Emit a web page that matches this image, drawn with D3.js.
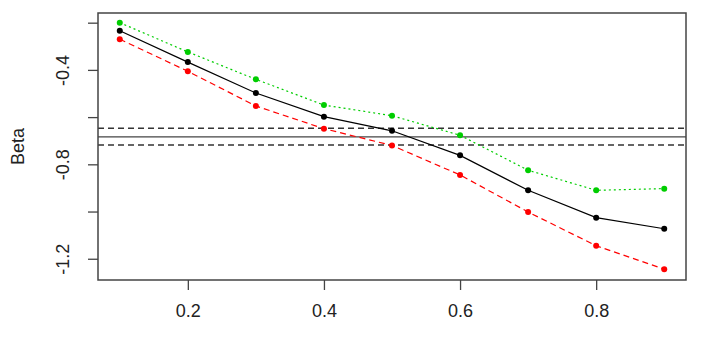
<!DOCTYPE html>
<html>
<head>
<meta charset="utf-8">
<script src="https://cdn.jsdelivr.net/npm/d3@7"></script>
<style>
  body { margin: 0; background: #fff; }
  text { font-family: "Liberation Sans", Arial, sans-serif; fill: #222; }
</style>
</head>
<body>
<svg id="chart" width="711" height="343"></svg>
<script>
// quantile levels on the x axis
const taus = [0.1, 0.2, 0.3, 0.4, 0.5, 0.6, 0.7, 0.8, 0.9];
// estimated beta and its bounds
const betaEst = [-0.234, -0.367, -0.498, -0.598, -0.658, -0.762, -0.910, -1.026, -1.073];
const betaUpper = [-0.200, -0.324, -0.440, -0.549, -0.594, -0.677, -0.825, -0.910, -0.903];
const betaLower = [-0.270, -0.406, -0.553, -0.649, -0.720, -0.845, -1.002, -1.145, -1.244];
// OLS estimate and its confidence band
const olsLine = -0.684;
const olsBand = [-0.647, -0.718];

const xTicks = [0.2, 0.4, 0.6, 0.8];
const yTicks = [-0.2, -0.4, -0.6, -0.8, -1.0, -1.2];
const yLabelled = [-0.4, -0.8, -1.2];

let svg = d3.select('#chart');
let plotLeft = 98, plotRight = 686, plotTop = 13, plotBottom = 280;

let xScale = d3.scaleLinear().domain([0.068, 0.932]).range([plotLeft, plotRight]);
let yScale = d3.scaleLinear().domain([-0.159, -1.290]).range([plotTop, plotBottom]);

// R style labels: plain hyphen as minus
let fmt = function (d) { return d.toFixed(1); };

// horizontal reference lines
svg.append('line')
    .attr('x1', plotLeft).attr('x2', plotRight)
    .attr('y1', yScale(olsLine)).attr('y2', yScale(olsLine))
    .style('stroke', '#444').style('stroke-width', 1.3);
olsBand.forEach(function (v) {
    svg.append('line')
        .attr('x1', plotLeft).attr('x2', plotRight)
        .attr('y1', yScale(v)).attr('y2', yScale(v))
        .style('stroke', '#333').style('stroke-width', 1.6)
        .style('stroke-dasharray', '6,4');
});

let series = [
    { values: betaUpper, color: '#00cd00', dash: '2,3' },
    { values: betaLower, color: '#ff0000', dash: '6,4' },
    { values: betaEst, color: '#000000', dash: null }
];

let line = d3.line()
    .x(function (d) { return xScale(d.x); })
    .y(function (d) { return yScale(d.y); });

series.forEach(function (s) {
    let pts = taus.map(function (t, i) { return { x: t, y: s.values[i] }; });
    svg.append('path')
        .datum(pts)
        .attr('d', line)
        .style('fill', 'none')
        .style('stroke', s.color)
        .style('stroke-width', 1.2)
        .style('stroke-dasharray', s.dash);
    svg.selectAll(null)
        .data(pts)
        .enter()
        .append('circle')
        .attr('cx', function (d) { return xScale(d.x); })
        .attr('cy', function (d) { return yScale(d.y); })
        .attr('r', 3)
        .style('fill', s.color);
});

// plot box
svg.append('rect')
    .attr('x', plotLeft).attr('y', plotTop)
    .attr('width', plotRight - plotLeft).attr('height', plotBottom - plotTop)
    .style('fill', 'none').style('stroke', '#444').style('stroke-width', 1.5);

// x axis
let xAxis = d3.axisBottom(xScale)
    .tickValues(xTicks)
    .tickSize(10)
    .tickPadding(14)
    .tickFormat(fmt);
let gx = svg.append('g')
    .attr('transform', 'translate(0,' + plotBottom + ')')
    .call(xAxis);
gx.select('.domain').remove();
gx.selectAll('line').style('stroke', '#444').style('stroke-width', 1.3);
gx.selectAll('text').style('font-size', '18px').style('fill', '#222');

// y axis
let yAxis = d3.axisLeft(yScale)
    .tickValues(yTicks)
    .tickSize(10)
    .tickFormat(function (d) {
        return yLabelled.indexOf(d) >= 0 ? fmt(d) : '';
    });
let gy = svg.append('g')
    .attr('transform', 'translate(' + plotLeft + ',0)')
    .call(yAxis);
gy.select('.domain').remove();
gy.selectAll('line').style('stroke', '#444').style('stroke-width', 1.3);
gy.selectAll('text')
    .style('font-size', '18px').style('fill', '#222')
    .attr('x', null)
    .attr('text-anchor', 'middle')
    .attr('transform', 'translate(-35,0) rotate(-90)')
    .attr('dy', '0.35em');

svg.append('text')
    .attr('transform', 'translate(24,' + ((plotTop + plotBottom) / 2) + ') rotate(-90)')
    .attr('text-anchor', 'middle')
    .style('font-size', '18px')
    .text('Beta');
</script>
</body>
</html>
